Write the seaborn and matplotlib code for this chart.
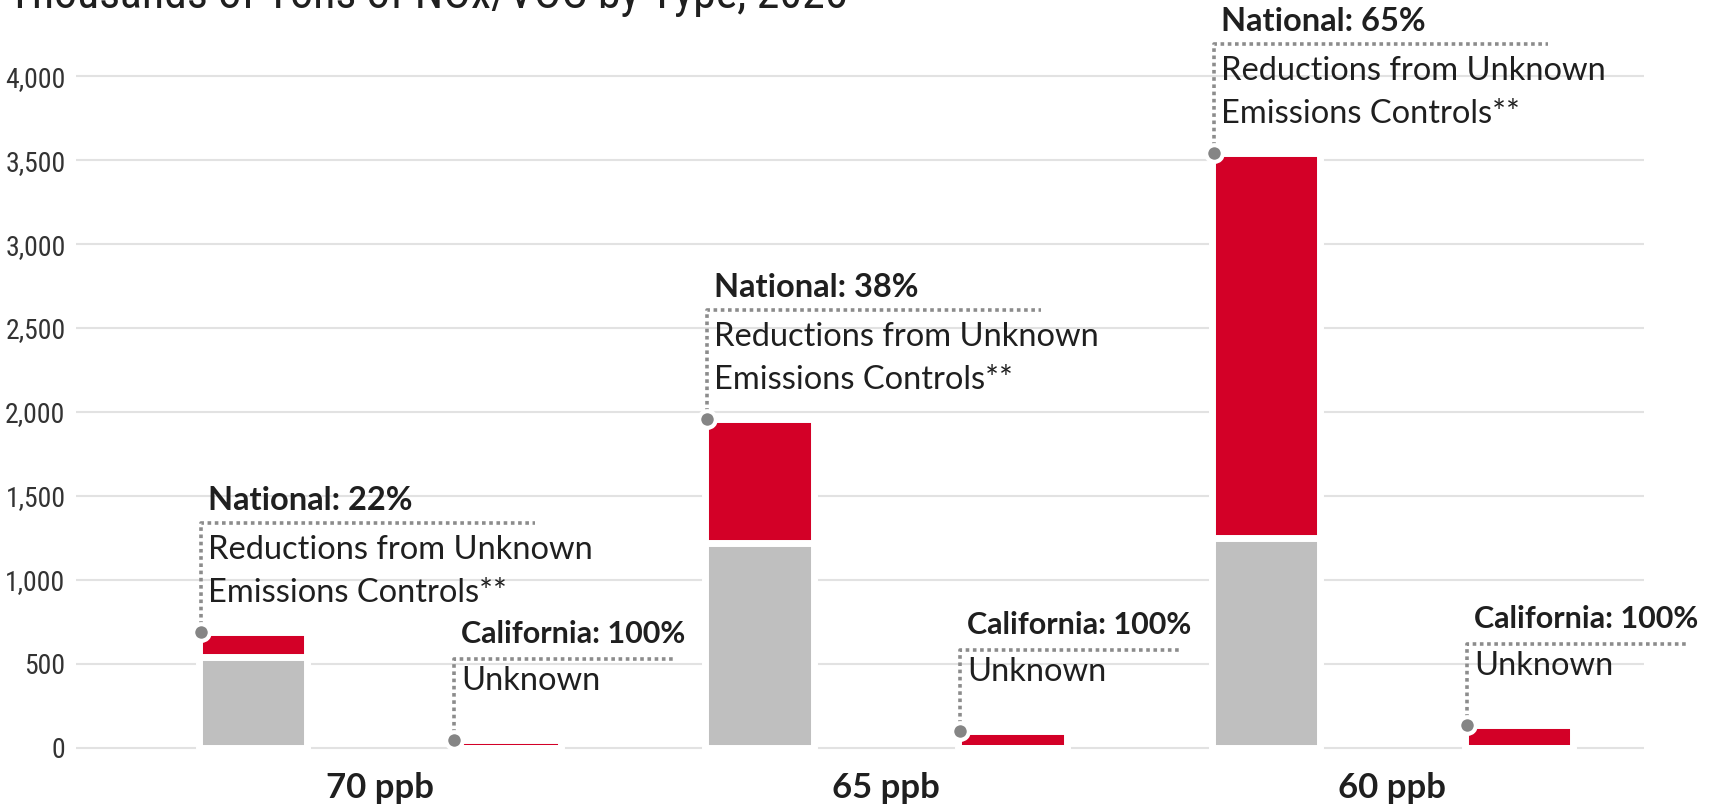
import pandas as pd
import matplotlib.pyplot as plt
import seaborn as sns
from matplotlib import font_manager

# thousands of tons of NOx/VOC
scenarios = ['70 ppb', '65 ppb', '60 ppb']
regions = ['National', 'California']
national_known = [538, 1220, 1248]
national_unknown = [148, 740, 2292]
california_known = [0, 0, 0]
california_unknown = [45, 100, 135]
national_share = ['22%', '38%', '65%']
california_share = ['100%', '100%', '100%']
y_ticks = [0, 500, 1000, 1500, 2000, 2500, 3000, 3500, 4000]

RED = '#D30027'
GREY = '#BFBFBF'
DOT = '#858585'
LINE = '#8C8C8C'
TXT = '#1F1F1F'

sns.set_style('white')
available = {f.name for f in font_manager.fontManager.ttflist}
NARROW = next((n for n in ['Liberation Sans Narrow', 'DejaVu Sans Condensed', 'Roboto Condensed']
               if n in available), 'Liberation Sans')
ANNO = 'Lato'
plt.rcParams['font.family'] = [ANNO, 'DejaVu Sans']

rows = []
for i, s in enumerate(scenarios):
    rows.append({'scenario': s, 'region': 'National',
                 'known': national_known[i], 'total': national_known[i] + national_unknown[i]})
    rows.append({'scenario': s, 'region': 'California',
                 'known': california_known[i], 'total': california_known[i] + california_unknown[i]})
df = pd.DataFrame(rows)

W, H = 1711, 806
fig, ax = plt.subplots(figsize=(W / 100, H / 100), dpi=100)
fig.subplots_adjust(left=76 / W, right=1644 / W, bottom=(H - 750.9) / H, top=(H - 12.5) / H)

bar_kw = dict(x='scenario', hue='region', order=scenarios, hue_order=regions, saturation=1,
              width=1.0, gap=0.572, errorbar=None, edgecolor='white', linewidth=5,
              legend=False, ax=ax, zorder=2)
sns.barplot(df, y='total', palette={'National': RED, 'California': RED}, **bar_kw)
total_bars = sorted(ax.patches, key=lambda p: p.get_x())
sns.barplot(df, y='known', palette={'National': GREY, 'California': GREY}, **bar_kw)

ax.set_xlim(-0.6, 2.497)
ax.set_ylim(-20, 4380)
ax.set_yticks(y_ticks)
ax.set_yticklabels([f'{v:,}' for v in y_ticks], family=NARROW, fontsize=20, color='#333333')
ax.set_xticks(range(len(scenarios)))
ax.set_xticklabels(scenarios, fontweight='bold', fontsize=25, color=TXT)
ax.yaxis.grid(True, color='#E2E2E2', lw=1.5)
ax.xaxis.grid(False)
ax.set_axisbelow(True)
sns.despine(ax=ax, left=True, bottom=True)
ax.tick_params(axis='both', length=0)
ax.tick_params(axis='y', pad=7.5)
ax.tick_params(axis='x', pad=15)
ax.set_xlabel('')
ax.set_ylabel('')

inv = ax.transData.inverted()
for k, p in enumerate(total_bars):
    i, r = k // 2, k % 2
    x0 = p.get_x()
    top = p.get_y() + p.get_height()
    bx, by = ax.transData.transform((x0, top))
    if r == 0:
        h, w = 109, 336
        header = f'National: {national_share[i]}'
        body = [('Reductions from Unknown', h - 36), ('Emissions Controls**', h - 79)]
        head_dy, head_fs = h + 13, 23.5
    else:
        h, w = 81, 222
        header = f'California: {california_share[i]}'
        body = [('Unknown', h - 31)]
        head_dy, head_fs = h + 16, 22
    path = inv.transform([(bx + 2, by), (bx + 2, by + h), (bx + w, by + h)])
    ax.plot(path[:, 0], path[:, 1], ls=(0, (1, 1)), lw=2.6, color=LINE,
            clip_on=False, zorder=4)
    dx, dy = inv.transform((bx + 2, by))
    ax.plot([dx], [dy], 'o', ms=12, mfc=DOT, mec='white', mew=3,
            clip_on=False, zorder=6)
    ax.annotate(header, xy=(x0, top), xytext=(9, head_dy), textcoords='offset pixels',
                ha='left', va='baseline', fontsize=head_fs, fontweight='bold', color=TXT,
                annotation_clip=False, zorder=7)
    for text, ty in body:
        ax.annotate(text, xy=(x0, top), xytext=(9, ty), textcoords='offset pixels',
                    ha='left', va='baseline', fontsize=23.5, color=TXT,
                    annotation_clip=False, zorder=7)

fig.text(8 / W, 1 - 8 / H, 'Thousands of Tons of NOx/VOC by Type, 2025', ha='left',
         va='baseline', fontsize=33, family=NARROW, color=TXT)

fig.savefig('out.png', dpi=100)
